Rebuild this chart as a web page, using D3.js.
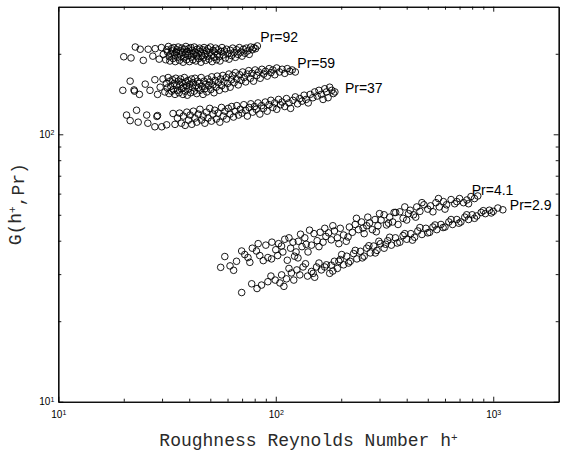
<!DOCTYPE html>
<html>
<head>
<meta charset="utf-8">
<script src="https://cdn.jsdelivr.net/npm/d3@7"></script>
<style>
  body { margin: 0; background: #fff; }
  svg { display: block; }
</style>
</head>
<body>
<svg id="chart" width="568" height="454"></svg>
<script>
// G(h+, Pr) versus roughness Reynolds number h+, one point cloud per Prandtl number.
// Each entry is [h+, G].
const pr92 = [
  [20,195],[21.6,193],[22.6,212],[23.8,208],[24.6,189],[25.9,208],[27.2,196],[27.9,209],[29.1,191],[29.8,211],[30.4,199],[31.2,190],
  [31.5,207],[31.8,203],[32.1,213],[32.4,195],[32.6,188],[32.9,200],[33.2,209],[33.4,205],[33.7,192],[34.0,211],[34.2,198],[34.5,187],
  [34.8,203],[35.1,207],[35.3,194],[35.6,212],[35.9,200],[36.1,189],[36.4,205],[36.7,196],[37.0,210],[37.2,202],[37.5,186],[37.8,193],
  [38.1,208],[38.4,199],[38.6,213],[38.9,190],[39.2,204],[39.5,197],[39.8,209],[40.1,187],[40.4,201],[40.7,211],[41.0,194],[41.3,206],
  [41.6,190],[41.9,199],[42.2,212],[42.6,203],[42.9,188],[43.2,196],[43.5,208],[43.9,200],[44.2,192],[44.6,210],[45.0,204],[45.3,186],
  [45.7,197],[46.1,207],[46.4,193],[46.8,211],[47.2,200],[47.6,189],[48.0,205],[48.4,196],[48.8,209],[49.3,191],[49.7,202],[50.1,212],
  [50.6,198],[51.0,187],[51.5,206],[52.0,194],[52.4,203],[52.9,210],[53.4,190],[53.9,199],[54.4,207],[54.9,195],[55.4,188],[56.0,204],
  [56.6,211],[57.3,198],[58.0,205],[58.7,193],[59.4,208],[60.2,200],[61.0,191],[61.8,206],[62.6,197],[63.4,210],[64.3,202],[65.2,194],
  [66.1,207],[67.0,199],[68.0,211],[69.0,203],[70.0,196],[71.0,208],[72.1,201],[73.2,210],[74.3,205],[75.5,199],[76.7,212],[78.0,207],
  [79.3,211],[80.7,209],[82.3,214]
];
const pr59 = [
  [19.8,146],[21.4,158],[22.3,146.5],[22.4,145],[23.6,141],[25.1,154],[26.4,146],[27.8,160],[28.6,141],[29.4,150],[30.3,161],[30.9,144],
  [31.4,155],[31.7,149],[32.0,163],[32.3,142],[32.6,158],[32.9,151],[33.2,145],[33.5,160],[33.8,147],[34.1,155],[34.4,141],[34.7,162],
  [35.0,152],[35.3,146],[35.6,158],[35.9,143],[36.2,153],[36.5,161],[36.8,148],[37.1,156],[37.4,141],[37.7,150],[38.0,163],[38.3,145],
  [38.6,157],[38.9,152],[39.2,140],[39.5,159],[39.8,148],[40.2,154],[40.6,143],[41.0,161],[41.3,150],[41.7,156],[42.1,145],[42.5,162],
  [42.9,152],[43.3,142],[43.7,158],[44.1,149],[44.5,155],[44.9,146],[45.4,163],[45.8,151],[46.3,141],[46.8,158],[47.2,148],[47.7,154],
  [48.2,144],[48.7,161],[49.2,152],[49.7,157],[50.3,147],[50.8,164],[51.4,153],[52.0,143],[52.6,159],[53.2,150],[53.8,165],[54.4,156],
  [55.0,146],[55.7,161],[56.4,152],[57.1,166],[57.8,157],[58.5,148],[59.3,163],[60.1,155],[60.9,168],[61.7,150],[62.5,160],
  [63.4,166],[64.3,156],[65.2,170],[66.2,161],[67.2,153],[68.2,167],[69.3,159],[70.4,171],[71.5,163],[72.7,157],[73.9,168],[75.1,173],
  [76.4,162],[77.7,169],[79.0,158],[80.4,174],[81.8,166],[83.3,171],[84.8,162],[86.4,175],[88.0,168],[89.7,172],[91.4,165],[93.2,176],
  [95.0,170],[97.0,174],[99.0,167],[101,177],[104,171],[107,175],[110,169],[113,176],[116,172],[119,174],[123,171]
];
const pr37 = [
  [20.6,118],[21.4,112.5],[22.9,123],[23.3,111],[25.5,118],[25.8,110],[27.8,106.7],[28.4,116.6],[28.6,117.5],[29.9,106.7],[31.5,108.5],
  [33.7,119.6],[34.4,108.9],[35.3,115],[36.1,120],[36.8,110],[37.6,117],[38.3,108],[39.0,121],[39.7,113],[40.4,118],[41.1,109],[41.8,122],
  [42.5,115],[43.3,111],[44.0,119],[44.8,124],[45.6,113],[46.4,117],[47.2,110],[48.0,121],[48.8,115],[49.7,125],[50.6,112],[51.5,119],
  [52.4,123],[53.3,114],[54.3,120],[55.3,111],[56.3,126],[57.3,117],[58.4,122],[59.4,114],[60.5,125],[61.6,119],[62.7,127],[63.9,116],
  [65.0,122],[66.2,128],[67.4,118],[68.7,124],[70.0,120],[71.3,129],[72.6,123],[74.0,117],[75.4,126],[76.8,130],[78.3,121],[79.8,127],
  [81.3,124],[82.9,131],[84.5,119],[86.1,128],[87.8,125],[89.5,132],[91.3,122],[93.1,129],[95.0,134],[96.9,126],[98.9,131],[101,124],
  [103,135],[105,129],[107,132],[110,127],[112,136],[115,131],[117,125],[120,134],[123,138],[126,130],[129,136],[132,133],
  [135,140],[138,135],[141,131],[144,141],[148,137],[151,144],[155,139],[158,146],[162,141],[165,135],[168,148],[171,144],
  [174,137],[177,150],[181,146],[184,142],[187,144]
];
const pr4_1 = [
  [55.8,31.8],[58.3,34.9],[61.6,32.2],[64,31],[66,33.5],[69.7,36.6],[72,35.5],[74.5,34.6],[76,33.2],[78,37.5],[81.5,36.6],[83,39],
  [84.4,35.2],[87.6,33.7],[90,38.5],[92,34.6],[95.6,34.2],[96,39.5],[100,37],[102,35.2],[103,39],[106.3,38.2],[107.8,36.3],[110,40.5],
  [113,33.8],[115,41],[117,37.5],[120,39.5],[122,35],[124,36.3],[126.5,34.5],[127,39.8],[130,42.3],[132,38],[136,41],[138,38.8],
  [140.7,36.3],[143,43.8],[146,38.5],[150,42.5],[155,40],[158,38],[160,43],[165,39.5],[168,44.5],[170,41.5],[175,42.8],[180,40.3],
  [183,45.5],[186,43.5],[192,41],[195,39],[198,44.5],[205,42],[211,39.8],[215,41.3],[218,45],[225,43],[232,46],[235,48.5],
  [240,44],[248,47],[252,44.6],[255,42.5],[262,45.5],[265,49],[270,46.6],[278,44],[286,48],[290,43.2],[295,45.5],[300,50.5],
  [305,47.8],[315,50],[323,45.8],[330,46.5],[334,49],[345,47],[350,51],[356,51],[365,46],[372,51.3],[385,48.5],[392,53.5],
  [400,47.8],[408,50.5],[415,52],[430,50],[440,49],[445,53.5],[460,51.5],[470,55.5],[480,54.5],[500,52.5],[515,54],[528,51.3],
  [545,55.5],[560,57.5],[565,53.5],[590,56],[600,52.5],[610,54.5],[640,57],[665,55],[680,56],[700,57.5],[730,55.5],[757,56.8],
  [770,55],[790,58.5],[820,57.5],[849,58.8]
];
const pr2_9 = [
  [69.7,25.6],[77.5,27.6],[82,26.5],[86,27.3],[92,28.1],[95,29.5],[99.4,28.5],[104.5,27.8],[106.4,29.8],[109,27],[112,28.8],[115,31.5],
  [118,30.3],[121,28.5],[125,31.1],[129,29.8],[133.5,31.9],[137,32.8],[140,29.5],[146,30.7],[148.6,30.2],[151,29.2],[154,31.9],[158,33],
  [162,31.1],[168,31.9],[171,32.5],[177,30.2],[180,32.4],[183,30.8],[186,33.5],[192,31.5],[195,33.5],[198,34],[201,35.5],[205,32.5],
  [212,35],[216,33],[220,33.5],[228,35.8],[232,36.8],[236,34.2],[245,36.5],[250,34.5],[255,35],[262,37.5],[268,38.3],[272,36],
  [282,38.2],[287,36],[292,36.8],[298,39.8],[303,39],[315,37.5],[320,38.8],[327,40],[334,41.2],[340,38.5],[355,41],[362,39.2],
  [372,39.5],[385,41.8],[392,42.5],[400,40.5],[418,42.5],[425,40.2],[435,41.2],[450,43.5],[460,44.8],[470,42.2],[490,44.5],[500,42.8],
  [510,43],[528,45],[540,45.8],[550,44],[575,46],[588,44.8],[600,45],[625,47],[640,48],[650,46],[680,48],[695,46.5],
  [710,47],[740,49],[755,50],[770,48],[800,50],[820,48.5],[840,49.5],[880,51],[900,51.8],[920,50.5],[960,52],[980,50.8],
  [1000,51.5],[1050,53],[1107,52.2]
];
const seriesNames = ["Pr=92", "Pr=59", "Pr=37", "Pr=4.1", "Pr=2.9"];
const xMajorTicks = [10, 100, 1000];
const xMinorTicks = [20, 30, 40, 50, 60, 70, 80, 90, 200, 300, 400, 500, 600, 700, 800, 900];
const yMajorTicks = [10, 100];
const yMinorTicks = [20, 30, 40, 50, 60, 70, 80, 90, 200];
const xDomain = [10, 2000];
const yDomain = [10, 300];

const svg = d3.select("#chart");
const plotLeft = 58.3, plotRight = 558.7, plotTop = 6.7, plotBottom = 401.7;

const x = d3.scaleLog().domain(xDomain).range([plotLeft, plotRight]);
const y = d3.scaleLog().domain(yDomain).range([plotBottom, plotTop]);

const tickFont = "Liberation Sans, Arial, Helvetica, sans-serif";
const monoFont = "'Courier New', 'Liberation Mono', monospace";

// Label a power-of-ten tick as 10 with a raised exponent
function powerLabel(sel) {
  sel.selectAll(".tick text").each(function (d) {
    const t = d3.select(this);
    t.text(null);
    t.append("tspan").text("10");
    t.append("tspan").attr("dy", "-0.45em").attr("font-size", "7px")
      .text(Math.round(Math.log10(d)));
  });
}

function styleAxis(g) {
  g.selectAll("path.domain").attr("stroke", "#000").attr("stroke-width", 1.1);
  g.selectAll(".tick line").attr("stroke", "#000").attr("stroke-width", 0.9);
  g.selectAll(".tick text").attr("fill", "#000").attr("font-family", tickFont).attr("font-size", "10px");
}

// Bottom axis: major ticks with labels, then minor ticks
svg.append("g").attr("transform", `translate(0,${plotBottom})`)
  .call(d3.axisBottom(x).tickValues(xMajorTicks).tickSizeInner(-5).tickSizeOuter(0).tickPadding(9))
  .call(styleAxis).call(powerLabel);
svg.append("g").attr("transform", `translate(0,${plotBottom})`)
  .call(d3.axisBottom(x).tickValues(xMinorTicks).tickSizeInner(-3).tickSizeOuter(0).tickFormat(""))
  .call(styleAxis);

// Top mirror
svg.append("g").attr("transform", `translate(0,${plotTop})`)
  .call(d3.axisTop(x).tickValues(xMajorTicks).tickSizeInner(-5).tickSizeOuter(0).tickFormat(""))
  .call(styleAxis);
svg.append("g").attr("transform", `translate(0,${plotTop})`)
  .call(d3.axisTop(x).tickValues(xMinorTicks).tickSizeInner(-3).tickSizeOuter(0).tickFormat(""))
  .call(styleAxis);

// Left axis
svg.append("g").attr("transform", `translate(${plotLeft},0)`)
  .call(d3.axisLeft(y).tickValues(yMajorTicks).tickSizeInner(-5).tickSizeOuter(0).tickPadding(4))
  .call(styleAxis).call(powerLabel);
svg.append("g").attr("transform", `translate(${plotLeft},0)`)
  .call(d3.axisLeft(y).tickValues(yMinorTicks).tickSizeInner(-3).tickSizeOuter(0).tickFormat(""))
  .call(styleAxis);

// Right mirror
svg.append("g").attr("transform", `translate(${plotRight},0)`)
  .call(d3.axisRight(y).tickValues(yMajorTicks).tickSizeInner(-5).tickSizeOuter(0).tickFormat(""))
  .call(styleAxis);
svg.append("g").attr("transform", `translate(${plotRight},0)`)
  .call(d3.axisRight(y).tickValues(yMinorTicks).tickSizeInner(-3).tickSizeOuter(0).tickFormat(""))
  .call(styleAxis);

// Point clouds
const allSeries = [pr92, pr59, pr37, pr4_1, pr2_9];
// Label offsets from the last point of each cloud
const labelOffset = [[3, -4], [2, -4], [10, 1], [-6, -1], [7, 0]];

allSeries.forEach((data, i) => {
  svg.append("g")
    .selectAll("circle")
    .data(data)
    .join("circle")
    .attr("cx", d => x(d[0]))
    .attr("cy", d => y(d[1]))
    .attr("r", 3.3)
    .attr("fill", "none")
    .attr("stroke", "#000")
    .attr("stroke-width", 0.9);

  const last = data[data.length - 1];
  svg.append("text")
    .attr("x", x(last[0]) + labelOffset[i][0])
    .attr("y", y(last[1]) + labelOffset[i][1])
    .attr("font-family", tickFont)
    .attr("font-size", "14px")
    .attr("fill", "#000")
    .text(seriesNames[i]);
});

// Axis titles
const xTitle = svg.append("text")
  .attr("x", (plotLeft + plotRight) / 2)
  .attr("y", 446)
  .attr("text-anchor", "middle")
  .attr("font-family", monoFont)
  .attr("font-size", "18px")
  .attr("fill", "#2a2a2a");
xTitle.append("tspan").text("Roughness Reynolds Number h");
xTitle.append("tspan").attr("dy", "-0.45em").attr("font-size", "11px").text("+");

const yTitle = svg.append("text")
  .attr("transform", `translate(21,${(plotTop + plotBottom) / 2}) rotate(-90)`)
  .attr("text-anchor", "middle")
  .attr("font-family", monoFont)
  .attr("font-size", "18px")
  .attr("fill", "#2a2a2a");
yTitle.append("tspan").text("G(h");
yTitle.append("tspan").attr("dy", "-0.45em").attr("font-size", "11px").text("+");
yTitle.append("tspan").attr("dy", "0.45em").text(",Pr)");
</script>
</body>
</html>
